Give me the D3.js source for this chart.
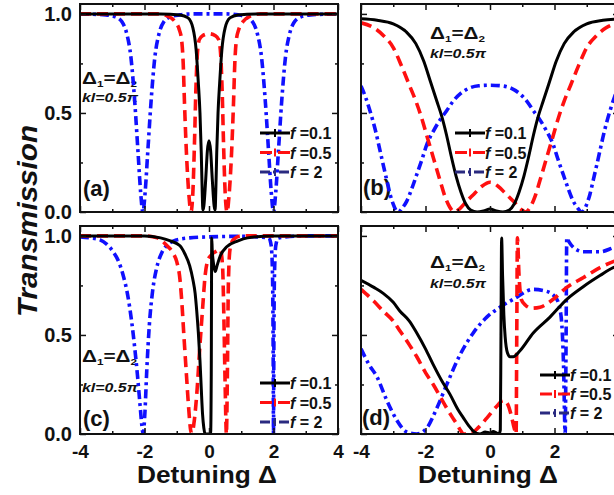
<!DOCTYPE html>
<html><head><meta charset="utf-8">
<script src="https://cdn.jsdelivr.net/npm/d3@7"></script>
<style>
body{margin:0;background:#fff}
svg{display:block}
text{font-family:"Liberation Sans",Arial,sans-serif;font-weight:bold;fill:#111}
</style>
</head><body>
<svg id="chart" width="614" height="495"></svg>
<script>
// ---------------- data ----------------
const xTicksMajor = [-4, -2, 0, 2, 4];
const xTicksMinor = [-3, -1, 1, 3];
const yTicksMajor = [0, 0.5, 1.0];
const yTicksMinor = [0.25, 0.75];
const xTickLabels = ["-4", "-2", "0", "2", "4"];
const yTickLabels = ["0.0", "0.5", "1.0"];
const legendValues = [" =0.1", " =0.5", " = 2"];
const panelLetters = ["(a)", "(b)", "(c)", "(d)"];
const xLabel = "Detuning Δ";
const yLabel = "Transmission";

// panel (a)
const a_f01 = [[-4,1],[-1.5,1],[-0.9,0.995],[-0.65,0.98],[-0.5,0.93],[-0.4,0.82],[-0.33,0.65],[-0.28,0.5],[-0.24,0.3],[-0.21,0.1],[-0.19,0.01],[-0.16,0.03],[-0.1,0.17],[-0.05,0.31],[0,0.36],[0.05,0.31],[0.1,0.17],[0.16,0.03],[0.19,0.01],[0.21,0.1],[0.24,0.3],[0.28,0.5],[0.33,0.65],[0.4,0.82],[0.5,0.93],[0.65,0.98],[0.9,0.995],[1.5,1],[4,1]];
const a_f05 = [[-4,1],[-1.6,1],[-1.3,0.99],[-1.05,0.96],[-0.92,0.92],[-0.85,0.87],[-0.8,0.75],[-0.76,0.55],[-0.7,0.3],[-0.62,0.08],[-0.56,0],[-0.5,0.1],[-0.45,0.35],[-0.41,0.6],[-0.36,0.8],[-0.3,0.87],[-0.2,0.89],[0,0.9],[0.2,0.89],[0.3,0.87],[0.36,0.8],[0.41,0.6],[0.45,0.35],[0.5,0.1],[0.56,0],[0.62,0.08],[0.7,0.3],[0.76,0.55],[0.8,0.75],[0.85,0.87],[0.92,0.92],[1.05,0.96],[1.3,0.99],[1.6,1],[4,1]];
const a_f2 = [[-4,1],[-3.2,0.995],[-2.9,0.985],[-2.7,0.96],[-2.55,0.9],[-2.42,0.78],[-2.3,0.55],[-2.2,0.3],[-2.12,0.1],[-2.05,0],[-1.98,0.1],[-1.9,0.3],[-1.8,0.55],[-1.68,0.78],[-1.55,0.9],[-1.4,0.96],[-1.2,0.985],[-0.9,0.995],[-0.5,1],[0.5,1],[0.9,0.995],[1.15,0.985],[1.35,0.96],[1.5,0.9],[1.63,0.78],[1.75,0.55],[1.85,0.3],[1.93,0.1],[2.0,0],[2.07,0.1],[2.15,0.3],[2.25,0.55],[2.37,0.78],[2.5,0.9],[2.65,0.96],[2.85,0.985],[3.15,0.995],[4,1]];

// panel (b)
const b_f01 = [[-4,0.975],[-3.5,0.968],[-3.0,0.95],[-2.6,0.91],[-2.3,0.85],[-2.05,0.76],[-1.85,0.66],[-1.65,0.56],[-1.5,0.485],[-1.35,0.39],[-1.2,0.28],[-1.05,0.18],[-0.9,0.1],[-0.75,0.04],[-0.6,0.01],[-0.4,0],[-0.2,0.005],[0,0.015],[0.2,0.005],[0.4,0],[0.6,0.01],[0.75,0.04],[0.9,0.1],[1.05,0.18],[1.2,0.28],[1.35,0.39],[1.5,0.485],[1.65,0.56],[1.85,0.66],[2.05,0.76],[2.3,0.85],[2.6,0.91],[3.0,0.95],[3.5,0.968],[4,0.975]];
const b_f05 = [[-4,0.955],[-3.6,0.93],[-3.3,0.89],[-3.0,0.83],[-2.75,0.74],[-2.5,0.64],[-2.3,0.56],[-2.15,0.49],[-1.95,0.38],[-1.75,0.27],[-1.55,0.16],[-1.4,0.08],[-1.25,0.025],[-1.1,0],[-0.95,0.015],[-0.75,0.05],[-0.5,0.09],[-0.25,0.13],[0,0.15],[0.25,0.13],[0.5,0.09],[0.75,0.05],[0.95,0.015],[1.1,0],[1.25,0.025],[1.4,0.08],[1.55,0.16],[1.75,0.27],[1.95,0.38],[2.15,0.49],[2.3,0.56],[2.5,0.64],[2.75,0.74],[3.0,0.83],[3.3,0.89],[3.6,0.93],[4,0.955]];
const b_f2 = [[-4,0.636],[-3.86,0.58],[-3.72,0.51],[-3.55,0.41],[-3.41,0.31],[-3.3,0.23],[-3.2,0.16],[-3.1,0.09],[-3.0,0.04],[-2.92,0.01],[-2.84,0],[-2.72,0.02],[-2.58,0.055],[-2.42,0.12],[-2.27,0.19],[-2.1,0.27],[-1.96,0.34],[-1.75,0.41],[-1.55,0.465],[-1.35,0.51],[-1.14,0.56],[-0.9,0.6],[-0.65,0.625],[-0.35,0.637],[0,0.64],[0.35,0.637],[0.65,0.625],[0.9,0.6],[1.14,0.56],[1.35,0.51],[1.55,0.465],[1.75,0.41],[1.96,0.34],[2.1,0.27],[2.27,0.19],[2.42,0.12],[2.58,0.055],[2.72,0.02],[2.84,0],[2.92,0.01],[3.0,0.04],[3.1,0.09],[3.2,0.16],[3.3,0.23],[3.41,0.31],[3.55,0.41],[3.72,0.51],[3.86,0.58],[4,0.636]];

// panel (c)
const c_f01 = [[-4,1],[-2,1],[-1.5,0.99],[-1.2,0.975],[-0.9,0.95],[-0.75,0.91],[-0.6,0.85],[-0.5,0.78],[-0.43,0.71],[-0.38,0.62],[-0.33,0.51],[-0.28,0.37],[-0.24,0.23],[-0.2,0.1],[-0.16,0.03],[-0.12,0],[0,0],[0.05,0],[0.07,0.3],[0.085,0.99],[0.1,0.93],[0.14,0.86],[0.19,0.82],[0.25,0.85],[0.35,0.9],[0.55,0.945],[0.9,0.975],[1.2,0.99],[2,1],[4,1]];
const c_f05 = [[-4,1],[-2,1],[-1.6,0.99],[-1.3,0.95],[-1.1,0.91],[-1.0,0.87],[-0.9,0.78],[-0.84,0.66],[-0.78,0.5],[-0.7,0.3],[-0.63,0.13],[-0.57,0.02],[-0.53,0],[-0.47,0.05],[-0.38,0.2],[-0.28,0.45],[-0.2,0.63],[-0.12,0.8],[-0.05,0.87],[0.05,0.9],[0.2,0.92],[0.35,0.93],[0.42,0.85],[0.46,0.6],[0.5,0.25],[0.54,0],[0.57,0.3],[0.6,0.75],[0.65,0.93],[0.75,0.98],[1.0,1],[4,1]];
const c_f2 = [[-4,0.995],[-3.7,0.99],[-3.38,0.98],[-3.15,0.955],[-2.97,0.92],[-2.8,0.87],[-2.66,0.8],[-2.52,0.7],[-2.4,0.57],[-2.3,0.43],[-2.22,0.3],[-2.14,0.15],[-2.08,0.04],[-2.04,0],[-1.99,0.1],[-1.93,0.32],[-1.85,0.55],[-1.75,0.72],[-1.62,0.84],[-1.45,0.92],[-1.25,0.96],[-1.0,0.98],[-0.6,0.99],[0,0.995],[1.0,0.998],[1.85,0.99],[1.93,0.95],[1.97,0.8],[1.99,0.4],[2.0,0],[2.01,0.4],[2.03,0.8],[2.07,0.95],[2.15,0.99],[3,1],[4,1]];

// panel (d)
const d_f01 = [[-4,0.776],[-3.6,0.74],[-3.31,0.71],[-3.0,0.665],[-2.79,0.62],[-2.5,0.57],[-2.27,0.51],[-2.0,0.43],[-1.76,0.35],[-1.5,0.27],[-1.24,0.2],[-1.0,0.125],[-0.83,0.083],[-0.65,0.04],[-0.52,0.015],[-0.31,0],[-0.15,0.01],[0,0.005],[0.1,0.012],[0.2,0.005],[0.28,0],[0.32,0.02],[0.34,0.5],[0.36,0.99],[0.39,0.8],[0.43,0.6],[0.47,0.49],[0.54,0.41],[0.62,0.39],[0.72,0.39],[0.93,0.42],[1.34,0.51],[1.86,0.59],[2.38,0.68],[2.9,0.745],[3.41,0.8],[3.82,0.84],[4,0.85]];
const d_f05 = [[-4,0.73],[-3.6,0.67],[-3.31,0.62],[-3.0,0.57],[-2.79,0.52],[-2.5,0.45],[-2.27,0.39],[-2.0,0.31],[-1.76,0.25],[-1.55,0.19],[-1.34,0.13],[-1.15,0.08],[-1.03,0.05],[-0.9,0.015],[-0.83,0],[-0.62,0],[-0.41,0.025],[-0.1,0.08],[0.21,0.14],[0.41,0.17],[0.55,0.15],[0.65,0.1],[0.75,0.03],[0.81,0],[0.83,0.5],[0.85,0.99],[0.9,0.8],[0.97,0.68],[1.1,0.65],[1.3,0.635],[1.55,0.64],[1.96,0.68],[2.38,0.74],[2.9,0.79],[3.41,0.84],[3.82,0.87],[4,0.88]];
const d_f2 = [[-4,0.43],[-3.75,0.35],[-3.51,0.29],[-3.2,0.17],[-2.89,0.07],[-2.58,0.01],[-2.27,0],[-1.96,0.03],[-1.65,0.13],[-1.34,0.25],[-0.93,0.4],[-0.52,0.51],[-0.1,0.59],[0.31,0.64],[0.72,0.68],[1.34,0.73],[1.76,0.72],[2.07,0.68],[2.2,0.6],[2.28,0.35],[2.33,0],[2.36,0.5],[2.38,0.99],[2.45,0.97],[2.6,0.94],[2.9,0.92],[3.41,0.92],[3.82,0.94],[4,0.95]];

const panelSeries = [[a_f01, a_f05, a_f2], [b_f01, b_f05, b_f2], [c_f01, c_f05, c_f2], [d_f01, d_f05, d_f2]];

// ---------------- layout / style ----------------
const styles = [
  {color: "#000", dash: null, width: 3, legendColor: "#000"},
  {color: "#ff1010", dash: "11,6", width: 3.6, legendColor: "#ff1010"},
  {color: "#1010ff", dash: "9,4,3,4", width: 3.6, legendColor: "#2a2a80"}
];
const layout = [
  {x0: 80, x1: 338, y0: 4, y1: 212, xlab: false, ylab: true, leg: [260, 133, 19.5], ann: [82, 84, 102], lab: [83, 196]},
  {x0: 361, x1: 619, y0: 4, y1: 212, xlab: false, ylab: false, leg: [455, 133, 19.5], ann: [430, 39, 58], lab: [363, 195]},
  {x0: 80, x1: 338, y0: 226, y1: 434, xlab: true, ylab: true, leg: [260, 383, 19.5], ann: [82, 362, 392], lab: [83, 426]},
  {x0: 361, x1: 619, y0: 226, y1: 434, xlab: true, ylab: false, leg: [540, 375, 19], ann: [430, 268, 288], lab: [362, 425]}
];

const svg = d3.select("#chart");
svg.append("rect").attr("width", 614).attr("height", 495).attr("fill", "#fff");

layout.forEach((L, i) => {
  const x = d3.scaleLinear().domain([-4, 4]).range([L.x0, L.x1]);
  const y = d3.scaleLinear().domain([0, 1.05]).range([L.y1, L.y0]);
  const g = svg.append("g");
  const clipId = "clip" + i;
  svg.append("clipPath").attr("id", clipId).append("rect")
    .attr("x", L.x0).attr("y", L.y0).attr("width", L.x1 - L.x0).attr("height", L.y1 - L.y0);

  // annotation
  const t1 = g.append("text").attr("x", L.ann[0]).attr("y", L.ann[1]).attr("font-size", 16)
    .attr("textLength", 55).attr("lengthAdjust", "spacingAndGlyphs");
  t1.append("tspan").text("Δ");
  t1.append("tspan").attr("font-size", 9).attr("dy", 3).text("1");
  t1.append("tspan").attr("dy", -3).text("=Δ");
  t1.append("tspan").attr("font-size", 9).attr("dy", 3).text("2");
  g.append("text").attr("x", L.ann[0]).attr("y", L.ann[2]).attr("font-size", 12)
    .attr("font-style", "italic").attr("textLength", 56).attr("lengthAdjust", "spacingAndGlyphs")
    .text("kl=0.5π");

  // panel letter
  g.append("text").attr("x", L.lab[0]).attr("y", L.lab[1]).attr("font-size", 22).text(panelLetters[i]);

  // curves
  const line = d3.line().x(d => x(d[0])).y(d => y(d[1])).curve(d3.curveMonotoneX);
  const cg = g.append("g").attr("clip-path", `url(#${clipId})`);
  [2, 1, 0].forEach(k => {
    const s = styles[k];
    cg.append("path").datum(panelSeries[i][k]).attr("d", line)
      .attr("fill", "none").attr("stroke", s.color).attr("stroke-width", s.width)
      .attr("stroke-dasharray", s.dash).attr("stroke-linejoin", "round");
  });

  // axes: major + minor ticks on all sides, pointing inward
  const fmtX = (d) => xTickLabels[xTicksMajor.indexOf(d)];
  const fmtY = (d) => yTickLabels[yTicksMajor.indexOf(d)];
  const axes = [
    {ax: d3.axisBottom(x).tickValues(xTicksMajor).tickSize(-6).tickPadding(11).tickFormat(L.xlab ? fmtX : () => ""), tr: `translate(0,${L.y1})`, cls: "xb"},
    {ax: d3.axisBottom(x).tickValues(xTicksMinor).tickSize(-3).tickFormat(() => ""), tr: `translate(0,${L.y1})`},
    {ax: d3.axisTop(x).tickValues(xTicksMajor).tickSize(-6).tickFormat(() => ""), tr: `translate(0,${L.y0})`},
    {ax: d3.axisTop(x).tickValues(xTicksMinor).tickSize(-3).tickFormat(() => ""), tr: `translate(0,${L.y0})`},
    {ax: d3.axisLeft(y).tickValues(yTicksMajor).tickSize(-6).tickPadding(8).tickFormat(L.ylab ? fmtY : () => ""), tr: `translate(${L.x0},0)`, cls: "yl"},
    {ax: d3.axisLeft(y).tickValues(yTicksMinor).tickSize(-3).tickFormat(() => ""), tr: `translate(${L.x0},0)`},
    {ax: d3.axisRight(y).tickValues(yTicksMajor).tickSize(-6).tickFormat(() => ""), tr: `translate(${L.x1},0)`},
    {ax: d3.axisRight(y).tickValues(yTicksMinor).tickSize(-3).tickFormat(() => ""), tr: `translate(${L.x1},0)`}
  ];
  axes.forEach(A => {
    const ag = g.append("g").attr("transform", A.tr).call(A.ax);
    ag.select(".domain").remove();
    ag.selectAll(".tick line").attr("stroke", "#111").attr("stroke-width", 1.5);
    ag.selectAll(".tick text").attr("fill", "#111").attr("font-weight", "bold")
      .attr("font-family", '"Liberation Sans",Arial,sans-serif');
    if (A.cls === "xb") ag.selectAll(".tick text").attr("font-size", 19);
    if (A.cls === "yl") ag.selectAll(".tick text").attr("font-size", 20);
  });
  g.append("rect").attr("x", L.x0).attr("y", L.y0).attr("width", L.x1 - L.x0).attr("height", L.y1 - L.y0)
    .attr("fill", "none").attr("stroke", "#111").attr("stroke-width", 2);

  // legend
  styles.forEach((s, k) => {
    const ly = L.leg[1] + k * L.leg[2];
    g.append("line").attr("x1", L.leg[0]).attr("x2", L.leg[0] + 30).attr("y1", ly).attr("y2", ly)
      .attr("stroke", s.legendColor).attr("stroke-width", 3).attr("stroke-dasharray", s.dash ? (k === 1 ? "12,6" : "10,3,3,3") : null);
    g.append("line").attr("x1", L.leg[0] + 15).attr("x2", L.leg[0] + 15).attr("y1", ly - 4).attr("y2", ly + 4)
      .attr("stroke", s.legendColor).attr("stroke-width", 2);
    const t = g.append("text").attr("x", L.leg[0] + 30).attr("y", ly + 6).attr("font-size", 16);
    t.append("tspan").attr("font-style", "italic").text("f");
    t.append("tspan").text(legendValues[k]);
  });

  if (L.xlab) {
    g.append("text").attr("x", (L.x0 + L.x1) / 2 - 2).attr("y", 483).attr("text-anchor", "middle")
      .attr("font-size", 23).attr("fill", "#222").attr("textLength", 140).attr("lengthAdjust", "spacingAndGlyphs")
      .text(xLabel);
  }
});

svg.append("text").attr("transform", "translate(37,221) rotate(-90)").attr("text-anchor", "middle")
  .attr("font-size", 28).attr("font-style", "italic").attr("textLength", 192).attr("lengthAdjust", "spacingAndGlyphs")
  .text(yLabel);
</script>
</body></html>
